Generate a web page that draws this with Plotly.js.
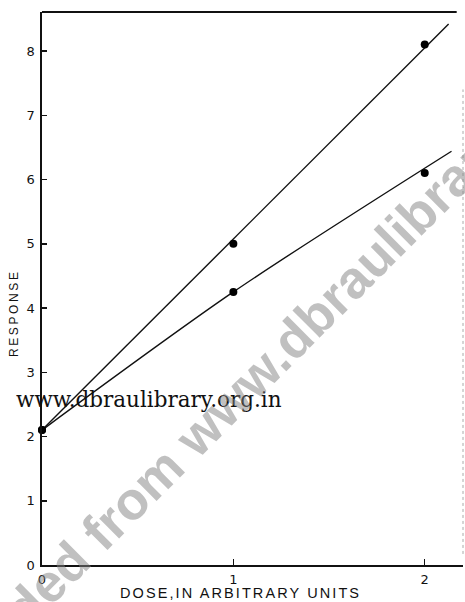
<!DOCTYPE html>
<html>
<head>
<meta charset="utf-8">
<script src="https://cdn.plot.ly/plotly-3.0.1.min.js"></script>
<style>
  html, body { margin: 0; padding: 0; background: #ffffff; }
  #chart { width: 465px; height: 602px; }
</style>
</head>
<body>
<div id="chart"></div>
<script>
// ---- data ----
const doses = [0, 1, 2];
const responseUpper = [2.1, 5.0, 8.1];
const responseLower = [2.1, 4.25, 6.1];

// drawn fit lines
const fitUpperX = [0, 2.125];
const fitUpperY = [2.1, 8.42];
const fitLowerX = [0, 1, 2.14];
const fitLowerY = [2.1, 4.25, 6.44];

const yTicks = [0, 1, 2, 3, 4, 5, 6, 7, 8];
const yTickText = ['0', '1', '2', '3', '4', '5', '6', '7', '8'];
const xTicks = [0, 1, 2];
const xTickText = ['0', '1', '2'];

const xTitle = 'DOSE,IN ARBITRARY UNITS';
const yTitle = 'RESPONSE';
const stampText = 'www.dbraulibrary.org.in';
const watermarkText = 'Downloaded from www.dbraulibrary.org.in';

// ---- traces ----
const traces = [
  {x: fitUpperX, y: fitUpperY, mode: 'lines', line: {color: '#111', width: 1.4}, hoverinfo: 'skip', showlegend: false},
  {x: fitLowerX, y: fitLowerY, mode: 'lines', line: {color: '#111', width: 1.4, shape: 'spline', smoothing: 0.8}, hoverinfo: 'skip', showlegend: false},
  {x: doses, y: responseUpper, mode: 'markers', marker: {color: '#000', size: 8}, cliponaxis: false, showlegend: false},
  {x: doses, y: responseLower, mode: 'markers', marker: {color: '#000', size: 8}, cliponaxis: false, showlegend: false}
];

const px2xp = px => (px - 42) / 421;
const py2yp = py => (565 - py) / 553;

const layout = {
  width: 465, height: 602,
  margin: {l: 42, r: 2, t: 12, b: 37, pad: 0},
  paper_bgcolor: '#ffffff', plot_bgcolor: '#ffffff',
  showlegend: false,
  font: {family: 'DejaVu Sans, sans-serif', color: '#111', size: 13},
  xaxis: {
    range: [0, 2.2], tickvals: xTicks, ticktext: xTickText,
    ticks: 'inside', ticklen: 6, tickwidth: 1.5, tickcolor: '#111',
    showline: true, linecolor: '#111', linewidth: 2,
    showgrid: false, zeroline: false,
    tickfont: {family: 'DejaVu Sans, sans-serif', size: 13, color: '#111'},
    ticklabelstandoff: 1
  },
  yaxis: {
    range: [0, 8.607], tickvals: yTicks, ticktext: yTickText,
    ticks: 'inside', ticklen: 5, tickwidth: 1.5, tickcolor: '#111',
    showline: true, linecolor: '#111', linewidth: 2.5,
    showgrid: false, zeroline: false,
    tickfont: {family: 'DejaVu Sans, sans-serif', size: 13, color: '#111'},
    ticklabelstandoff: 2
  },
  shapes: [
    {type: 'line', xref: 'paper', yref: 'paper', x0: 0, x1: 0.985, y0: 1, y1: 1, line: {color: '#111', width: 2}},
    {type: 'line', xref: 'paper', yref: 'paper', x0: 1, x1: 1, y0: 0.02, y1: 0.86, line: {color: '#aaa', width: 1, dash: 'dot'}}
  ],
  annotations: [
    {text: '<span style="letter-spacing:2.6px">' + yTitle + '</span>', xref: 'paper', yref: 'paper',
     x: px2xp(14), y: py2yp(313), textangle: -90, showarrow: false, xanchor: 'center', yanchor: 'middle',
     font: {family: 'Liberation Sans, Arial, sans-serif', size: 12, color: '#111'}},
    {text: '<span style="letter-spacing:2.1px">' + xTitle + '</span>', xref: 'paper', yref: 'paper',
     x: px2xp(240), y: py2yp(593), showarrow: false, xanchor: 'center', yanchor: 'middle', borderpad: 0,
     font: {family: 'Liberation Sans, Arial, sans-serif', size: 14.5, color: '#111'}},
    {text: stampText, xref: 'paper', yref: 'paper',
     x: px2xp(14), y: py2yp(414), showarrow: false, xanchor: 'left', yanchor: 'bottom',
     font: {family: 'DejaVu Serif, serif', size: 21.5, color: '#111'}},
    {text: '<b>' + watermarkText + '</b>', xref: 'paper', yref: 'paper',
     x: px2xp(235), y: py2yp(397), textangle: -45, showarrow: false, xanchor: 'center', yanchor: 'middle',
     font: {family: 'Liberation Sans, Arial, sans-serif', size: 53, color: 'rgba(130,130,130,0.5)'}}
  ]
};

Plotly.newPlot('chart', traces, layout, {staticPlot: true, displayModeBar: false});
</script>
</body>
</html>
